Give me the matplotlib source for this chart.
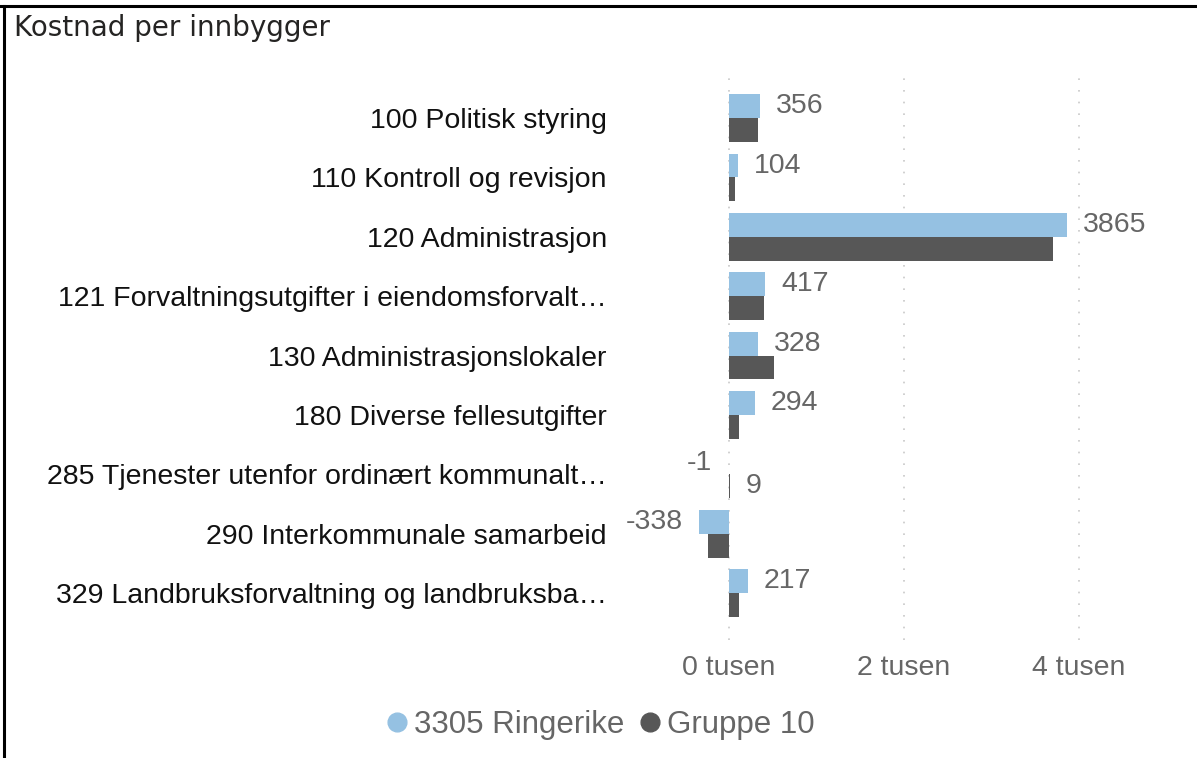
import matplotlib
matplotlib.use("Agg")
import matplotlib.pyplot as plt
from matplotlib.lines import Line2D

categories = [
    "100 Politisk styring",
    "110 Kontroll og revisjon",
    "120 Administrasjon",
    "121 Forvaltningsutgifter i eiendomsforvalt…",
    "130 Administrasjonslokaler",
    "180 Diverse fellesutgifter",
    "285 Tjenester utenfor ordinært kommunalt…",
    "290 Interkommunale samarbeid",
    "329 Landbruksforvaltning og landbruksba…",
]
ringerike = [356, 104, 3865, 417, 328, 294, -1, -338, 217]
gruppe10 = [330, 70, 3700, 400, 514, 115, 9, -240, 115]
dark_labels_shown = [6]
tick_values = [0, 2000, 4000]
tick_labels = ["0 tusen", "2 tusen", "4 tusen"]
series_names = ["3305 Ringerike", "Gruppe 10"]

LIGHT = "#95C1E2"
DARK = "#575757"
GREY_TXT = "#666666"

W, H, DPI = 1197, 758, 100
fig = plt.figure(figsize=(W / DPI, H / DPI), dpi=DPI)
fig.patch.set_facecolor("white")

# axes placement in pixels
ax_left, ax_right, ax_top, ax_bot = 620, 1150, 70, 640
ax = fig.add_axes([ax_left / W, 1 - ax_bot / H, (ax_right - ax_left) / W, (ax_bot - ax_top) / H])

px_per_unit = 175 / 2000.0
x0_px = 729
ax.set_xlim((ax_left - x0_px) / px_per_unit, (ax_right - x0_px) / px_per_unit)
row_px = 59.4
first_row = 118
ax.set_ylim(8 + (ax_bot - (first_row + 8 * row_px)) / row_px, -(first_row - ax_top) / row_px)

n = len(categories)
ys = list(range(n))
bh = 0.4
ax.barh([y - bh / 2 for y in ys], ringerike, height=bh, color=LIGHT, zorder=3)
ax.barh([y + bh / 2 for y in ys], gruppe10, height=bh, color=DARK, zorder=3)

for i, v in enumerate(ringerike):
    off = 16 if v >= 0 else -17
    ax.annotate(str(v), (v, i - bh / 2), xytext=(off, 0), textcoords="offset pixels",
                ha="left" if v >= 0 else "right", va="center", fontsize=20.5,
                color=GREY_TXT, family="Liberation Sans", zorder=4)
for i in dark_labels_shown:
    v = gruppe10[i]
    ax.annotate(str(v), (v, i + bh / 2), xytext=(16, 0), textcoords="offset pixels",
                ha="left", va="center", fontsize=20.5, color=GREY_TXT,
                family="Liberation Sans", zorder=4)

ax.set_yticks(ys)
ax.set_yticklabels(categories, fontsize=20.5, family="Liberation Sans", color="#111111")
ax.set_xticks(tick_values)
ax.set_xticklabels(tick_labels, fontsize=20.5, family="Liberation Sans", color=GREY_TXT)
ax.tick_params(axis="y", length=0, pad=9.5)
ax.tick_params(axis="x", length=0, pad=11)
for s in ax.spines.values():
    s.set_visible(False)
ax.xaxis.grid(True, color="#C8C8C8", linestyle=(0, (1, 6)), linewidth=1.2, zorder=0)
ax.yaxis.grid(False)
ax.set_facecolor("white")

# legend
handles = [Line2D([], [], marker="o", linestyle="none", markersize=13.5, color=LIGHT),
           Line2D([], [], marker="o", linestyle="none", markersize=13.5, color=DARK)]
leg = fig.legend(handles, series_names, loc="center", bbox_to_anchor=(0.4995, 1 - 725 / H),
                 ncol=2, frameon=False, handletextpad=0.06,
                 columnspacing=0.3, handlelength=1.0, prop={"family": "Liberation Sans", "size": 22.5})
for t in leg.get_texts():
    t.set_color(GREY_TXT)

# title
fig.text(14 / W, 1 - 28 / H, "Kostnad per innbygger", fontsize=20, family="DejaVu Sans",
         color="#252423", ha="left", va="center")

# frame lines (top and left)
fig.add_artist(Line2D([0, 1], [1 - 6 / H, 1 - 6 / H], transform=fig.transFigure, color="black", linewidth=2.2))
fig.add_artist(Line2D([4 / W, 4 / W], [0, 1 - 6 / H], transform=fig.transFigure, color="black", linewidth=2.2))

fig.savefig("out.png", dpi=DPI, facecolor="white")
